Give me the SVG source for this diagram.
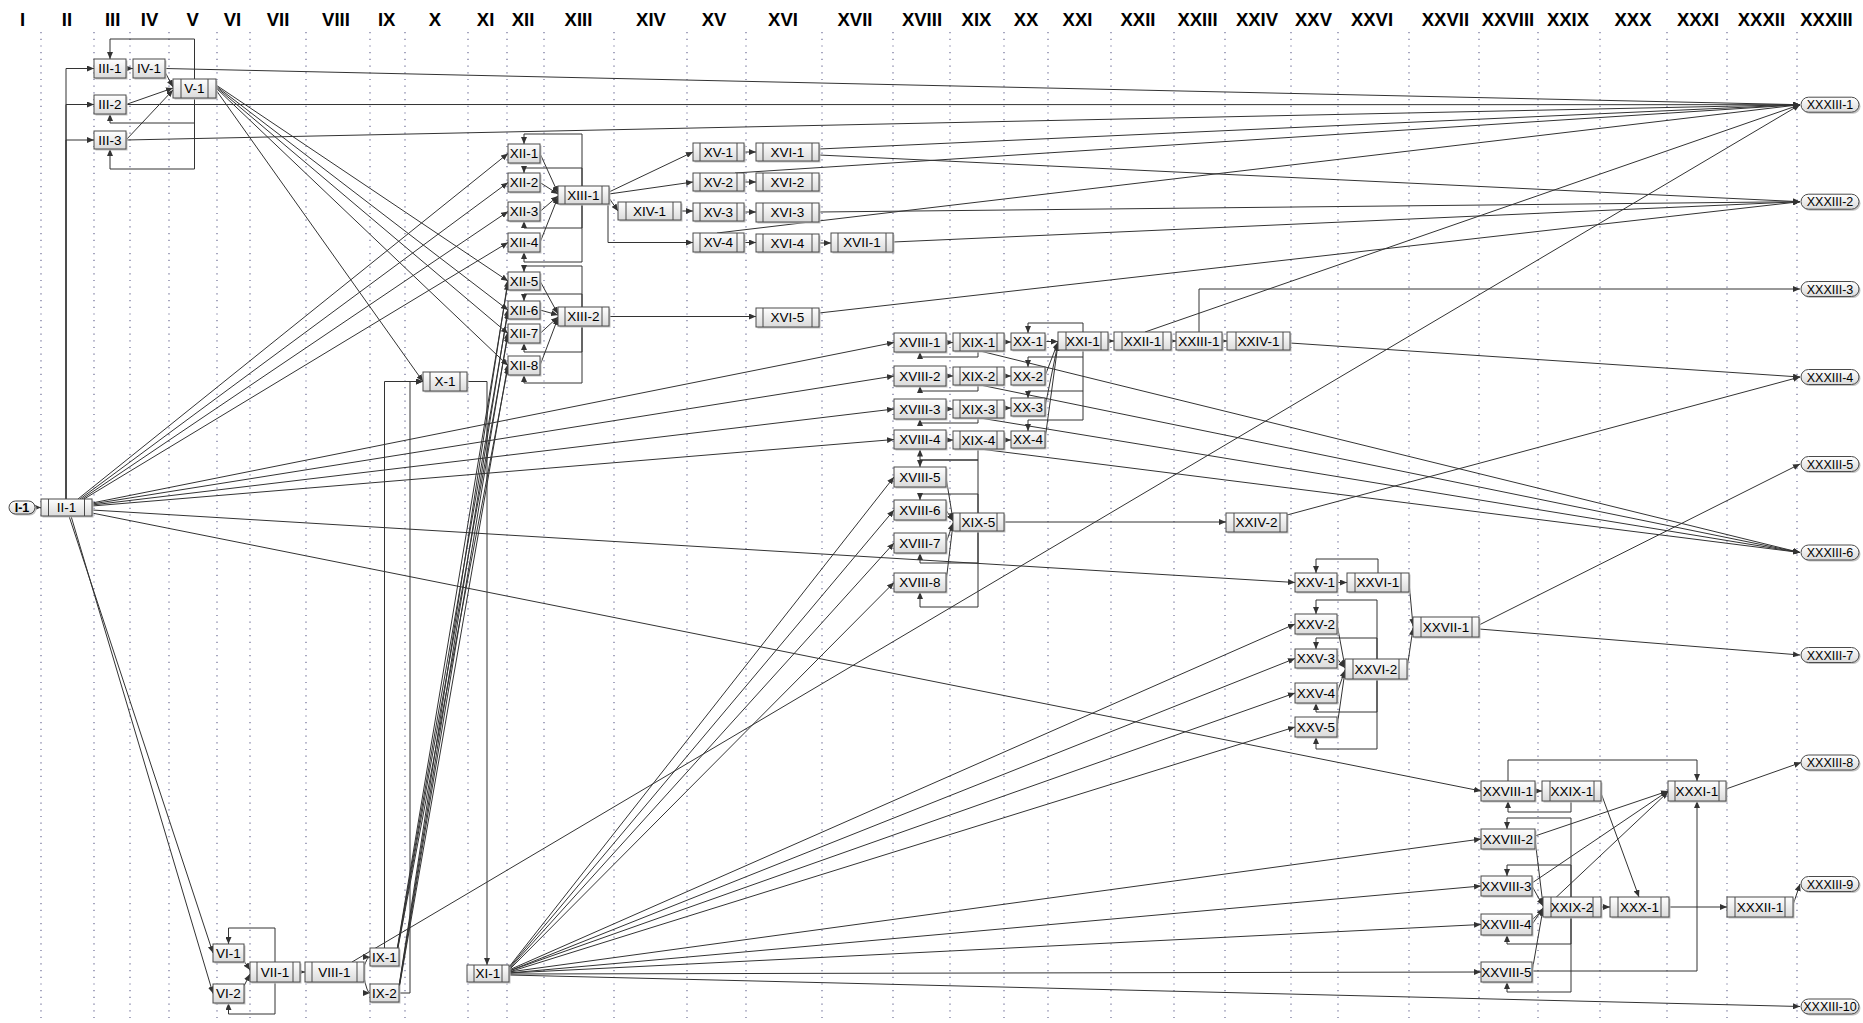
<svg xmlns="http://www.w3.org/2000/svg" width="1863" height="1023" viewBox="0 0 1863 1023">
<defs>
<linearGradient id="g" x1="0" y1="0" x2="0" y2="1"><stop offset="0" stop-color="#ffffff"/><stop offset="1" stop-color="#dadada"/></linearGradient>
<marker id="a" markerWidth="7" markerHeight="6" refX="7" refY="3" orient="auto" markerUnits="userSpaceOnUse"><path d="M0,0 L7,3 L0,6 z" fill="#333"/></marker>
<style>
.bx{fill:url(#g);stroke:#4a4a4a;stroke-width:1}
.sh{fill:#c4c4c4}
.bar{stroke:#4a4a4a;stroke-width:1}
.t{font-family:"Liberation Sans",Arial,sans-serif;font-size:13.5px;fill:#000;text-anchor:middle}
.tt{font-family:"Liberation Sans",Arial,sans-serif;font-size:12.5px;fill:#000;text-anchor:middle}
.hd{font-family:"Liberation Sans",Arial,sans-serif;font-size:18.5px;font-weight:bold;fill:#000;text-anchor:middle}
.grid{fill:none;stroke:#6d6d96;stroke-width:1.2;stroke-dasharray:1.2 5.5}
.e{fill:none;stroke:#333;stroke-width:1;marker-end:url(#a)}
.n{fill:none;stroke:#333;stroke-width:1}
</style>
</defs>
<rect width="1863" height="1023" fill="#fff"/>
<g id="grid">
<path class="grid" d="M41,32V1020M94,32V1020M130,32V1020M169,32V1020M217,32V1020M250,32V1020M306,32V1020M370,32V1020M405,32V1020M468,32V1020M507,32V1020M544,32V1020M614,32V1020M687,32V1020M746,32V1020M822,32V1020M893,32V1020M950,32V1020M1004,32V1020M1048,32V1020M1111,32V1020M1174,32V1020M1225,32V1020M1291,32V1020M1338,32V1020M1409,32V1020M1479,32V1020M1538,32V1020M1600,32V1020M1667,32V1020M1727,32V1020M1797,32V1020"/>
</g>
<g id="headers">
<text class="hd" x="22.5" y="26">I</text><text class="hd" x="67" y="26">II</text><text class="hd" x="112.7" y="26">III</text><text class="hd" x="149.5" y="26">IV</text><text class="hd" x="192.6" y="26">V</text><text class="hd" x="232.5" y="26">VI</text><text class="hd" x="278" y="26">VII</text><text class="hd" x="336" y="26">VIII</text><text class="hd" x="386.7" y="26">IX</text><text class="hd" x="435" y="26">X</text><text class="hd" x="485.6" y="26">XI</text><text class="hd" x="523" y="26">XII</text><text class="hd" x="578.5" y="26">XIII</text><text class="hd" x="651" y="26">XIV</text><text class="hd" x="714" y="26">XV</text><text class="hd" x="783" y="26">XVI</text><text class="hd" x="855" y="26">XVII</text><text class="hd" x="922" y="26">XVIII</text><text class="hd" x="976.5" y="26">XIX</text><text class="hd" x="1026" y="26">XX</text><text class="hd" x="1077.5" y="26">XXI</text><text class="hd" x="1138" y="26">XXII</text><text class="hd" x="1197.5" y="26">XXIII</text><text class="hd" x="1257" y="26">XXIV</text><text class="hd" x="1313.5" y="26">XXV</text><text class="hd" x="1372" y="26">XXVI</text><text class="hd" x="1445.4" y="26">XXVII</text><text class="hd" x="1508" y="26">XXVIII</text><text class="hd" x="1568" y="26">XXIX</text><text class="hd" x="1633" y="26">XXX</text><text class="hd" x="1698" y="26">XXXI</text><text class="hd" x="1761.4" y="26">XXXII</text><text class="hd" x="1826.5" y="26">XXXIII</text>
</g>
<g id="connectors">
<path class="e" d="M35,507.5H41"/>
<path class="e" d="M66,499V68.5H94"/><path class="e" d="M66,499V104.5H94"/><path class="e" d="M66,499V140H94"/>
<path class="e" d="M126,68.5H133"/>
<path class="e" d="M165,72L173,87"/><path class="e" d="M126,104.5L173,88"/><path class="e" d="M126,140L173,90"/>
<path class="e" d="M194.5,79V39H110V59"/><path class="e" d="M194.5,98V123H110V114"/><path class="e" d="M194.5,98V169H110V149"/>
<path class="e" d="M165,68.5L1800,104.7"/><path class="e" d="M126,104.5L1800,104.7"/><path class="e" d="M126,140L1800,104.7"/>
<path class="e" d="M216,85L508,281"/><path class="e" d="M216,86L508,310"/><path class="e" d="M216,87L508,333.5"/><path class="e" d="M216,88L508,365.5"/><path class="e" d="M216,90L423,381.5"/>
<path class="e" d="M78,499L508,153.5"/><path class="e" d="M80,499L508,182.5"/><path class="e" d="M82,499L508,211.5"/><path class="e" d="M84,499L508,242.5"/>
<path class="e" d="M92,503L894,342.5"/><path class="e" d="M92,504L894,376"/><path class="e" d="M92,505L894,409"/><path class="e" d="M92,506L894,439.5"/>
<path class="e" d="M92,510L1295,582.5"/><path class="e" d="M92,513L1481,791"/>
<path class="e" d="M69,516L213,953"/><path class="e" d="M71,516L213,993.5"/>
<path class="e" d="M244,961L250,970"/><path class="e" d="M244,986L250,974"/>
<path class="e" d="M275,962V928H228.5V944"/><path class="e" d="M275,982V1014H228.5V1003"/>
<path class="e" d="M300,972H305"/>
<path class="e" d="M364,967Q367,957 370,957"/><path class="e" d="M364,977Q367,993 370,993"/>
<path class="e" d="M384.5,948V381.5H423"/><path class="e" d="M399,993H410V381.5H423"/>
<path class="e" d="M467,381.5H487V965"/>
<path class="e" d="M397,950L508,283"/><path class="e" d="M397,951L508,312"/><path class="e" d="M397,952L508,335"/><path class="e" d="M397,953L508,367"/>
<path class="e" d="M399,986L508,280"/><path class="e" d="M399,987L508,309"/><path class="e" d="M399,988L508,332"/><path class="e" d="M399,989L508,364"/>
<path class="e" d="M352,962L1800,104.7"/>
<path class="e" d="M540,153.5L558,193"/><path class="e" d="M540,182.5L558,194"/><path class="e" d="M540,211.5L558,196"/><path class="e" d="M540,242.5L558,197"/>
<path class="e" d="M582,186V134H524V144"/><path class="e" d="M582,186V168H524V173"/><path class="e" d="M582,204V228H524V221"/><path class="e" d="M582,204V262H524V252"/>
<path class="e" d="M540,281L558,314"/><path class="e" d="M540,310L558,315"/><path class="e" d="M540,333.5L558,317"/><path class="e" d="M540,365.5L558,318"/>
<path class="e" d="M582,307V266H524V272"/><path class="e" d="M582,307V294H524V301"/><path class="e" d="M582,326V352H524V343"/><path class="e" d="M582,326V383H524V375"/>
<path class="e" d="M609,192L693,152"/><path class="e" d="M609,194L693,182"/><path class="e" d="M609,198L618,211"/><path class="e" d="M608,204V242.5H693"/>
<path class="e" d="M681,211H693"/>
<path class="e" d="M744,152H756"/><path class="e" d="M744,182H756"/><path class="e" d="M744,212H756"/><path class="e" d="M744,242.5H756"/><path class="e" d="M819,243H831"/>
<path class="e" d="M609,316.5H756"/>
<path class="e" d="M819,149L1800,104.7"/><path class="e" d="M819,155L1800,201.7"/>
<path class="e" d="M735,173L1800,104.7"/><path class="e" d="M717,233L1800,104.7"/>
<path class="e" d="M819,212L1800,201.7"/><path class="e" d="M893,242L1800,201.7"/><path class="e" d="M819,313L1800,201.7"/>
<path class="e" d="M946,342.5H953"/><path class="e" d="M946,376H953"/><path class="e" d="M946,409H953"/><path class="e" d="M946,440H953"/>
<path class="e" d="M1004,342H1011"/><path class="e" d="M1004,376H1011"/><path class="e" d="M1004,408H1011"/><path class="e" d="M1004,440H1011"/>
<path class="e" d="M1045,341.5H1058"/><path class="e" d="M1045,376L1058,342"/><path class="e" d="M1045,407L1058,343"/><path class="e" d="M1045,439.5L1058,344"/>
<path class="e" d="M978,351V357H920V352"/><path class="e" d="M978,385V391H920V386"/><path class="e" d="M978,418V423H920V419"/><path class="e" d="M978,449V460H920V449.5"/><path class="e" d="M978,460H920V467"/>
<path class="n" d="M978,460V513"/>
<path class="e" d="M978,513V494H920V500"/><path class="e" d="M978,531V563H920V553"/><path class="e" d="M978,531V607H920V592"/>
<path class="e" d="M946,477L953,520"/><path class="e" d="M946,510L953,521"/><path class="e" d="M946,543L953,523"/><path class="e" d="M946,582L953,524"/>
<path class="e" d="M1004,522H1226"/>
<path class="e" d="M1287,515L1800,377"/>
<path class="e" d="M1083,332V323H1028V333"/>
<path class="n" d="M1083,350V420"/>
<path class="e" d="M1083,357H1028V367"/><path class="e" d="M1083,391H1028V398"/><path class="e" d="M1083,420H1028V431"/>
<path class="e" d="M1108,341H1114"/><path class="e" d="M1171,341H1176"/><path class="e" d="M1222,341H1227"/>
<path class="e" d="M1199,332V289H1800"/>
<path class="e" d="M1145,332L1800,104.7"/>
<path class="e" d="M1290,343L1800,377"/>
<path class="e" d="M980,351L1800,552.5"/><path class="e" d="M980,385L1800,552.5"/><path class="e" d="M980,418L1800,552.5"/><path class="e" d="M980,449L1800,552.5"/>
<path class="e" d="M509,967L894,477"/><path class="e" d="M509,968L894,510"/><path class="e" d="M509,969L894,543"/><path class="e" d="M509,970L894,582.5"/>
<path class="e" d="M509,970L1295,624"/><path class="e" d="M509,971L1295,658.5"/><path class="e" d="M509,971L1295,693"/><path class="e" d="M509,972L1295,727"/>
<path class="e" d="M509,972L1481,839"/><path class="e" d="M509,973L1481,886"/><path class="e" d="M509,973L1481,924.5"/><path class="e" d="M509,974L1481,972"/>
<path class="e" d="M509,975L1800,1006.5"/>
<path class="e" d="M1337,582.5H1347"/>
<path class="e" d="M1378,573V559H1316V573"/>
<path class="e" d="M1337,624L1345,667"/><path class="e" d="M1337,658.5L1345,668"/><path class="e" d="M1337,693L1345,670"/><path class="e" d="M1337,727L1345,671"/>
<path class="e" d="M1377,659V600H1316V614"/><path class="e" d="M1377,659V638H1316V649"/><path class="e" d="M1377,679V712H1316V703"/><path class="e" d="M1377,679V749H1316V737"/>
<path class="e" d="M1409,582L1413,626"/><path class="e" d="M1407,669L1413,628"/>
<path class="e" d="M1479,625L1800,464"/><path class="e" d="M1479,629L1800,655"/>
<path class="e" d="M1535,791H1542"/>
<path class="e" d="M1571,801V812H1508V801"/>
<path class="e" d="M1508,781V760H1697V781"/>
<path class="e" d="M1601,793L1639,897"/>
<path class="e" d="M1571,897V818H1507V829"/><path class="e" d="M1571,897V865H1507V876"/><path class="e" d="M1571,917V944H1507V935"/><path class="e" d="M1571,917V992H1507V982"/>
<path class="e" d="M1535,839L1543,905"/><path class="e" d="M1532,886L1543,906"/><path class="e" d="M1532,924.5L1543,908"/><path class="e" d="M1532,972L1543,909"/>
<path class="e" d="M1535,836L1668,791"/><path class="e" d="M1532,883L1668,791"/><path class="e" d="M1532,920L1668,792"/>
<path class="e" d="M1532,971H1697V801"/>
<path class="e" d="M1601,907H1610"/><path class="e" d="M1669,907H1727"/>
<path class="e" d="M1793,905L1800,884"/>
<path class="e" d="M1726,789L1801,762.5"/>
</g>
<g id="nodes">
<g id="I-1"><rect class="sh" x="10.5" y="502.5" width="26" height="13" rx="6.5"/><rect class="bx" x="9" y="501" width="26" height="13" rx="6.5"/><text class="tt" x="22" y="511.8" font-weight="bold">I-1</text></g>
<g id="II-1"><rect class="sh" x="42.5" y="500.5" width="51" height="17"/><rect class="bx" x="41" y="499" width="51" height="17"/><path class="bar" d="M48.5,499V516M84.5,499V516"/><text class="t" x="66.5" y="512.3">II-1</text></g>
<g id="III-1"><rect class="sh" x="95.5" y="60.5" width="32" height="19"/><rect class="bx" x="94" y="59" width="32" height="19"/><text class="t" x="110" y="73.3">III-1</text></g>
<g id="IV-1"><rect class="sh" x="134.5" y="60.5" width="32" height="19"/><rect class="bx" x="133" y="59" width="32" height="19"/><text class="t" x="149" y="73.3">IV-1</text></g>
<g id="V-1"><rect class="sh" x="174.5" y="80.5" width="43" height="19"/><rect class="bx" x="173" y="79" width="43" height="19"/><path class="bar" d="M181,79V98M208,79V98"/><text class="t" x="194.5" y="93.3">V-1</text></g>
<g id="III-2"><rect class="sh" x="95.5" y="96.5" width="32" height="19"/><rect class="bx" x="94" y="95" width="32" height="19"/><text class="t" x="110" y="109.3">III-2</text></g>
<g id="III-3"><rect class="sh" x="95.5" y="132.5" width="32" height="18"/><rect class="bx" x="94" y="131" width="32" height="18"/><text class="t" x="110" y="144.8">III-3</text></g>
<g id="VI-1"><rect class="sh" x="214.5" y="945.5" width="31" height="18"/><rect class="bx" x="213" y="944" width="31" height="18"/><text class="t" x="228.5" y="957.8">VI-1</text></g>
<g id="VI-2"><rect class="sh" x="214.5" y="985.5" width="31" height="19"/><rect class="bx" x="213" y="984" width="31" height="19"/><text class="t" x="228.5" y="998.3">VI-2</text></g>
<g id="VII-1"><rect class="sh" x="251.5" y="963.5" width="50" height="20"/><rect class="bx" x="250" y="962" width="50" height="20"/><path class="bar" d="M257,962V982M293,962V982"/><text class="t" x="275" y="976.8">VII-1</text></g>
<g id="VIII-1"><rect class="sh" x="306.5" y="963.5" width="59" height="20"/><rect class="bx" x="305" y="962" width="59" height="20"/><path class="bar" d="M312,962V982M357,962V982"/><text class="t" x="334.5" y="976.8">VIII-1</text></g>
<g id="IX-1"><rect class="sh" x="371.5" y="949.5" width="29" height="18"/><rect class="bx" x="370" y="948" width="29" height="18"/><text class="t" x="384.5" y="961.8">IX-1</text></g>
<g id="IX-2"><rect class="sh" x="371.5" y="985.5" width="29" height="18"/><rect class="bx" x="370" y="984" width="29" height="18"/><text class="t" x="384.5" y="997.8">IX-2</text></g>
<g id="X-1"><rect class="sh" x="424.5" y="373.5" width="44" height="19"/><rect class="bx" x="423" y="372" width="44" height="19"/><path class="bar" d="M430,372V391M460,372V391"/><text class="t" x="445" y="386.3">X-1</text></g>
<g id="XI-1"><rect class="sh" x="468.5" y="966.5" width="42" height="17"/><rect class="bx" x="467" y="965" width="42" height="17"/><path class="bar" d="M474,965V982M502,965V982"/><text class="t" x="488" y="978.3">XI-1</text></g>
<g id="XII-1"><rect class="sh" x="509.5" y="145.5" width="32" height="19"/><rect class="bx" x="508" y="144" width="32" height="19"/><text class="t" x="524" y="158.3">XII-1</text></g>
<g id="XII-2"><rect class="sh" x="509.5" y="174.5" width="32" height="19"/><rect class="bx" x="508" y="173" width="32" height="19"/><text class="t" x="524" y="187.3">XII-2</text></g>
<g id="XII-3"><rect class="sh" x="509.5" y="203.5" width="32" height="19"/><rect class="bx" x="508" y="202" width="32" height="19"/><text class="t" x="524" y="216.3">XII-3</text></g>
<g id="XII-4"><rect class="sh" x="509.5" y="234.5" width="32" height="19"/><rect class="bx" x="508" y="233" width="32" height="19"/><text class="t" x="524" y="247.3">XII-4</text></g>
<g id="XII-5"><rect class="sh" x="509.5" y="273.5" width="32" height="18"/><rect class="bx" x="508" y="272" width="32" height="18"/><text class="t" x="524" y="285.8">XII-5</text></g>
<g id="XII-6"><rect class="sh" x="509.5" y="302.5" width="32" height="18"/><rect class="bx" x="508" y="301" width="32" height="18"/><text class="t" x="524" y="314.8">XII-6</text></g>
<g id="XII-7"><rect class="sh" x="509.5" y="325.5" width="32" height="19"/><rect class="bx" x="508" y="324" width="32" height="19"/><text class="t" x="524" y="338.3">XII-7</text></g>
<g id="XII-8"><rect class="sh" x="509.5" y="357.5" width="32" height="19"/><rect class="bx" x="508" y="356" width="32" height="19"/><text class="t" x="524" y="370.3">XII-8</text></g>
<g id="XIII-1"><rect class="sh" x="559.5" y="187.5" width="51" height="18"/><rect class="bx" x="558" y="186" width="51" height="18"/><path class="bar" d="M565,186V204M602,186V204"/><text class="t" x="583.5" y="199.8">XIII-1</text></g>
<g id="XIII-2"><rect class="sh" x="559.5" y="308.5" width="51" height="19"/><rect class="bx" x="558" y="307" width="51" height="19"/><path class="bar" d="M565,307V326M602,307V326"/><text class="t" x="583.5" y="321.3">XIII-2</text></g>
<g id="XIV-1"><rect class="sh" x="619.5" y="203.5" width="63" height="18"/><rect class="bx" x="618" y="202" width="63" height="18"/><path class="bar" d="M626,202V220M673,202V220"/><text class="t" x="649.5" y="215.8">XIV-1</text></g>
<g id="XV-1"><rect class="sh" x="694.5" y="144.5" width="51" height="18"/><rect class="bx" x="693" y="143" width="51" height="18"/><path class="bar" d="M700,143V161M737,143V161"/><text class="t" x="718.5" y="156.8">XV-1</text></g>
<g id="XV-2"><rect class="sh" x="694.5" y="174.5" width="51" height="18"/><rect class="bx" x="693" y="173" width="51" height="18"/><path class="bar" d="M700,173V191M737,173V191"/><text class="t" x="718.5" y="186.8">XV-2</text></g>
<g id="XV-3"><rect class="sh" x="694.5" y="204.5" width="51" height="18"/><rect class="bx" x="693" y="203" width="51" height="18"/><path class="bar" d="M700,203V221M737,203V221"/><text class="t" x="718.5" y="216.8">XV-3</text></g>
<g id="XV-4"><rect class="sh" x="694.5" y="234.5" width="51" height="19"/><rect class="bx" x="693" y="233" width="51" height="19"/><path class="bar" d="M700,233V252M737,233V252"/><text class="t" x="718.5" y="247.3">XV-4</text></g>
<g id="XVI-1"><rect class="sh" x="757.5" y="144.5" width="63" height="18"/><rect class="bx" x="756" y="143" width="63" height="18"/><path class="bar" d="M763,143V161M812,143V161"/><text class="t" x="787.5" y="156.8">XVI-1</text></g>
<g id="XVI-2"><rect class="sh" x="757.5" y="174.5" width="63" height="18"/><rect class="bx" x="756" y="173" width="63" height="18"/><path class="bar" d="M763,173V191M812,173V191"/><text class="t" x="787.5" y="186.8">XVI-2</text></g>
<g id="XVI-3"><rect class="sh" x="757.5" y="204.5" width="63" height="19"/><rect class="bx" x="756" y="203" width="63" height="19"/><path class="bar" d="M763,203V222M812,203V222"/><text class="t" x="787.5" y="217.3">XVI-3</text></g>
<g id="XVI-4"><rect class="sh" x="757.5" y="235.5" width="63" height="18"/><rect class="bx" x="756" y="234" width="63" height="18"/><path class="bar" d="M763,234V252M812,234V252"/><text class="t" x="787.5" y="247.8">XVI-4</text></g>
<g id="XVI-5"><rect class="sh" x="757.5" y="309.5" width="63" height="19"/><rect class="bx" x="756" y="308" width="63" height="19"/><path class="bar" d="M763,308V327M812,308V327"/><text class="t" x="787.5" y="322.3">XVI-5</text></g>
<g id="XVII-1"><rect class="sh" x="832.5" y="234.5" width="62" height="19"/><rect class="bx" x="831" y="233" width="62" height="19"/><path class="bar" d="M838,233V252M886,233V252"/><text class="t" x="862" y="247.3">XVII-1</text></g>
<g id="XVIII-1"><rect class="sh" x="895.5" y="334.5" width="52" height="19"/><rect class="bx" x="894" y="333" width="52" height="19"/><text class="t" x="920" y="347.3">XVIII-1</text></g>
<g id="XVIII-2"><rect class="sh" x="895.5" y="367.5" width="52" height="20"/><rect class="bx" x="894" y="366" width="52" height="20"/><text class="t" x="920" y="380.8">XVIII-2</text></g>
<g id="XVIII-3"><rect class="sh" x="895.5" y="400.5" width="52" height="20"/><rect class="bx" x="894" y="399" width="52" height="20"/><text class="t" x="920" y="413.8">XVIII-3</text></g>
<g id="XVIII-4"><rect class="sh" x="895.5" y="431.5" width="52" height="19"/><rect class="bx" x="894" y="430" width="52" height="19"/><text class="t" x="920" y="444.3">XVIII-4</text></g>
<g id="XVIII-5"><rect class="sh" x="895.5" y="468.5" width="52" height="20"/><rect class="bx" x="894" y="467" width="52" height="20"/><text class="t" x="920" y="481.8">XVIII-5</text></g>
<g id="XVIII-6"><rect class="sh" x="895.5" y="501.5" width="52" height="20"/><rect class="bx" x="894" y="500" width="52" height="20"/><text class="t" x="920" y="514.8">XVIII-6</text></g>
<g id="XVIII-7"><rect class="sh" x="895.5" y="534.5" width="52" height="20"/><rect class="bx" x="894" y="533" width="52" height="20"/><text class="t" x="920" y="547.8">XVIII-7</text></g>
<g id="XVIII-8"><rect class="sh" x="895.5" y="574.5" width="52" height="19"/><rect class="bx" x="894" y="573" width="52" height="19"/><text class="t" x="920" y="587.3">XVIII-8</text></g>
<g id="XIX-1"><rect class="sh" x="954.5" y="334.5" width="51" height="18"/><rect class="bx" x="953" y="333" width="51" height="18"/><path class="bar" d="M960,333V351M997,333V351"/><text class="t" x="978.5" y="346.8">XIX-1</text></g>
<g id="XIX-2"><rect class="sh" x="954.5" y="368.5" width="51" height="18"/><rect class="bx" x="953" y="367" width="51" height="18"/><path class="bar" d="M960,367V385M997,367V385"/><text class="t" x="978.5" y="380.8">XIX-2</text></g>
<g id="XIX-3"><rect class="sh" x="954.5" y="401.5" width="51" height="18"/><rect class="bx" x="953" y="400" width="51" height="18"/><path class="bar" d="M960,400V418M997,400V418"/><text class="t" x="978.5" y="413.8">XIX-3</text></g>
<g id="XIX-4"><rect class="sh" x="954.5" y="432.5" width="51" height="18"/><rect class="bx" x="953" y="431" width="51" height="18"/><path class="bar" d="M960,431V449M997,431V449"/><text class="t" x="978.5" y="444.8">XIX-4</text></g>
<g id="XIX-5"><rect class="sh" x="954.5" y="514.5" width="51" height="18"/><rect class="bx" x="953" y="513" width="51" height="18"/><path class="bar" d="M960,513V531M997,513V531"/><text class="t" x="978.5" y="526.8">XIX-5</text></g>
<g id="XX-1"><rect class="sh" x="1012.5" y="334.5" width="34" height="17"/><rect class="bx" x="1011" y="333" width="34" height="17"/><text class="t" x="1028" y="346.3">XX-1</text></g>
<g id="XX-2"><rect class="sh" x="1012.5" y="368.5" width="34" height="18"/><rect class="bx" x="1011" y="367" width="34" height="18"/><text class="t" x="1028" y="380.8">XX-2</text></g>
<g id="XX-3"><rect class="sh" x="1012.5" y="399.5" width="34" height="18"/><rect class="bx" x="1011" y="398" width="34" height="18"/><text class="t" x="1028" y="411.8">XX-3</text></g>
<g id="XX-4"><rect class="sh" x="1012.5" y="432.5" width="34" height="17"/><rect class="bx" x="1011" y="431" width="34" height="17"/><text class="t" x="1028" y="444.3">XX-4</text></g>
<g id="XXI-1"><rect class="sh" x="1059.5" y="333.5" width="50" height="18"/><rect class="bx" x="1058" y="332" width="50" height="18"/><path class="bar" d="M1066,332V350M1101,332V350"/><text class="t" x="1083" y="345.8">XXI-1</text></g>
<g id="XXII-1"><rect class="sh" x="1115.5" y="333.5" width="57" height="18"/><rect class="bx" x="1114" y="332" width="57" height="18"/><path class="bar" d="M1122,332V350M1163,332V350"/><text class="t" x="1142.5" y="345.8">XXII-1</text></g>
<g id="XXIII-1"><rect class="sh" x="1177.5" y="333.5" width="46" height="18"/><rect class="bx" x="1176" y="332" width="46" height="18"/><text class="t" x="1199" y="345.8">XXIII-1</text></g>
<g id="XXIV-1"><rect class="sh" x="1228.5" y="333.5" width="63" height="18"/><rect class="bx" x="1227" y="332" width="63" height="18"/><path class="bar" d="M1236,332V350M1283,332V350"/><text class="t" x="1258.5" y="345.8">XXIV-1</text></g>
<g id="XXIV-2"><rect class="sh" x="1227.5" y="514.5" width="61" height="19"/><rect class="bx" x="1226" y="513" width="61" height="19"/><path class="bar" d="M1234,513V532M1280,513V532"/><text class="t" x="1256.5" y="527.3">XXIV-2</text></g>
<g id="XXV-1"><rect class="sh" x="1296.5" y="574.5" width="42" height="19"/><rect class="bx" x="1295" y="573" width="42" height="19"/><text class="t" x="1316" y="587.3">XXV-1</text></g>
<g id="XXVI-1"><rect class="sh" x="1348.5" y="574.5" width="62" height="19"/><rect class="bx" x="1347" y="573" width="62" height="19"/><path class="bar" d="M1355,573V592M1401,573V592"/><text class="t" x="1378" y="587.3">XXVI-1</text></g>
<g id="XXV-2"><rect class="sh" x="1296.5" y="615.5" width="42" height="20"/><rect class="bx" x="1295" y="614" width="42" height="20"/><text class="t" x="1316" y="628.8">XXV-2</text></g>
<g id="XXV-3"><rect class="sh" x="1296.5" y="650.5" width="42" height="19"/><rect class="bx" x="1295" y="649" width="42" height="19"/><text class="t" x="1316" y="663.3">XXV-3</text></g>
<g id="XXV-4"><rect class="sh" x="1296.5" y="684.5" width="42" height="20"/><rect class="bx" x="1295" y="683" width="42" height="20"/><text class="t" x="1316" y="697.8">XXV-4</text></g>
<g id="XXV-5"><rect class="sh" x="1296.5" y="718.5" width="42" height="20"/><rect class="bx" x="1295" y="717" width="42" height="20"/><text class="t" x="1316" y="731.8">XXV-5</text></g>
<g id="XXVI-2"><rect class="sh" x="1346.5" y="660.5" width="62" height="20"/><rect class="bx" x="1345" y="659" width="62" height="20"/><path class="bar" d="M1353,659V679M1399,659V679"/><text class="t" x="1376" y="673.8">XXVI-2</text></g>
<g id="XXVII-1"><rect class="sh" x="1414.5" y="618.5" width="66" height="20"/><rect class="bx" x="1413" y="617" width="66" height="20"/><path class="bar" d="M1421,617V637M1472,617V637"/><text class="t" x="1446" y="631.8">XXVII-1</text></g>
<g id="XXVIII-1"><rect class="sh" x="1482.5" y="782.5" width="54" height="20"/><rect class="bx" x="1481" y="781" width="54" height="20"/><text class="t" x="1508" y="795.8">XXVIII-1</text></g>
<g id="XXIX-1"><rect class="sh" x="1543.5" y="782.5" width="59" height="20"/><rect class="bx" x="1542" y="781" width="59" height="20"/><path class="bar" d="M1550,781V801M1594,781V801"/><text class="t" x="1572" y="795.8">XXIX-1</text></g>
<g id="XXXI-1"><rect class="sh" x="1669.5" y="782.5" width="58" height="20"/><rect class="bx" x="1668" y="781" width="58" height="20"/><path class="bar" d="M1675,781V801M1719,781V801"/><text class="t" x="1697" y="795.8">XXXI-1</text></g>
<g id="XXVIII-2"><rect class="sh" x="1482.5" y="830.5" width="54" height="20"/><rect class="bx" x="1481" y="829" width="54" height="20"/><text class="t" x="1508" y="843.8">XXVIII-2</text></g>
<g id="XXVIII-3"><rect class="sh" x="1482.5" y="877.5" width="51" height="20"/><rect class="bx" x="1481" y="876" width="51" height="20"/><text class="t" x="1506.5" y="890.8">XXVIII-3</text></g>
<g id="XXVIII-4"><rect class="sh" x="1482.5" y="915.5" width="51" height="21"/><rect class="bx" x="1481" y="914" width="51" height="21"/><text class="t" x="1506.5" y="929.3">XXVIII-4</text></g>
<g id="XXVIII-5"><rect class="sh" x="1482.5" y="963.5" width="51" height="20"/><rect class="bx" x="1481" y="962" width="51" height="20"/><text class="t" x="1506.5" y="976.8">XXVIII-5</text></g>
<g id="XXIX-2"><rect class="sh" x="1544.5" y="898.5" width="58" height="20"/><rect class="bx" x="1543" y="897" width="58" height="20"/><path class="bar" d="M1551,897V917M1593,897V917"/><text class="t" x="1572" y="911.8">XXIX-2</text></g>
<g id="XXX-1"><rect class="sh" x="1611.5" y="898.5" width="59" height="20"/><rect class="bx" x="1610" y="897" width="59" height="20"/><path class="bar" d="M1618,897V917M1661,897V917"/><text class="t" x="1639.5" y="911.8">XXX-1</text></g>
<g id="XXXII-1"><rect class="sh" x="1728.5" y="898.5" width="66" height="20"/><rect class="bx" x="1727" y="897" width="66" height="20"/><path class="bar" d="M1735,897V917M1785,897V917"/><text class="t" x="1760" y="911.8">XXXII-1</text></g>
<g id="XXXIII-1"><rect class="sh" x="1802.5" y="98.7" width="58" height="15" rx="7.5"/><rect class="bx" x="1801" y="97.2" width="58" height="15" rx="7.5"/><text class="tt" x="1830" y="109.2">XXXIII-1</text></g>
<g id="XXXIII-2"><rect class="sh" x="1802.5" y="195.7" width="58" height="15" rx="7.5"/><rect class="bx" x="1801" y="194.2" width="58" height="15" rx="7.5"/><text class="tt" x="1830" y="206.2">XXXIII-2</text></g>
<g id="XXXIII-3"><rect class="sh" x="1802.5" y="283" width="58" height="15" rx="7.5"/><rect class="bx" x="1801" y="281.5" width="58" height="15" rx="7.5"/><text class="tt" x="1830" y="293.5">XXXIII-3</text></g>
<g id="XXXIII-4"><rect class="sh" x="1802.5" y="371" width="58" height="15" rx="7.5"/><rect class="bx" x="1801" y="369.5" width="58" height="15" rx="7.5"/><text class="tt" x="1830" y="381.5">XXXIII-4</text></g>
<g id="XXXIII-5"><rect class="sh" x="1802.5" y="458" width="58" height="15" rx="7.5"/><rect class="bx" x="1801" y="456.5" width="58" height="15" rx="7.5"/><text class="tt" x="1830" y="468.5">XXXIII-5</text></g>
<g id="XXXIII-6"><rect class="sh" x="1802.5" y="546.5" width="58" height="15" rx="7.5"/><rect class="bx" x="1801" y="545" width="58" height="15" rx="7.5"/><text class="tt" x="1830" y="557">XXXIII-6</text></g>
<g id="XXXIII-7"><rect class="sh" x="1802.5" y="649" width="58" height="15" rx="7.5"/><rect class="bx" x="1801" y="647.5" width="58" height="15" rx="7.5"/><text class="tt" x="1830" y="659.5">XXXIII-7</text></g>
<g id="XXXIII-8"><rect class="sh" x="1802.5" y="756.5" width="58" height="15" rx="7.5"/><rect class="bx" x="1801" y="755" width="58" height="15" rx="7.5"/><text class="tt" x="1830" y="767">XXXIII-8</text></g>
<g id="XXXIII-9"><rect class="sh" x="1802.5" y="878" width="58" height="15" rx="7.5"/><rect class="bx" x="1801" y="876.5" width="58" height="15" rx="7.5"/><text class="tt" x="1830" y="888.5">XXXIII-9</text></g>
<g id="XXXIII-10"><rect class="sh" x="1802.5" y="1000.5" width="58" height="15" rx="7.5"/><rect class="bx" x="1801" y="999" width="58" height="15" rx="7.5"/><text class="tt" x="1830" y="1011">XXXIII-10</text></g>
</g>
</svg>
